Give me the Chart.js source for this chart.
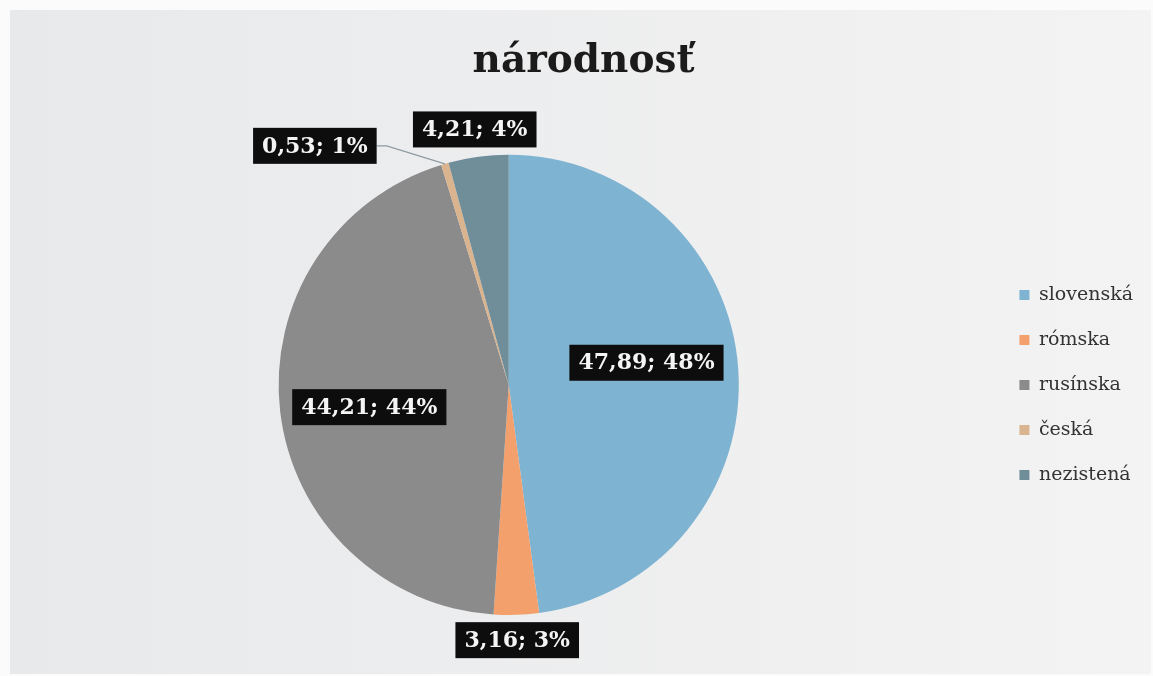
<!doctype html>
<html lang="sk">
    <head>
        <meta charset="UTF-8" />
        <title>národnosť</title>
        <script src="https://cdn.jsdelivr.net/npm/chart.js@4.4.1/dist/chart.umd.min.js"></script>
        <style>
            html,
            body {
                margin: 0;
                padding: 0;
                background: #fbfbfb;
            }
            #wrap {
                width: 1153px;
                height: 676px;
            }
        </style>
    </head>

    <body>
        <div id="wrap"><canvas id="pieChart" width="1153" height="676"></canvas></div>

        <script>
            // data
            const categories = ["slovenská", "rómska", "rusínska", "česká", "nezistená"];
            const values = [47.89, 3.16, 44.21, 0.53, 4.21];
            const percentLabels = ["48%", "3%", "44%", "1%", "4%"];
            const colors = ["#7fb3d2", "#f3a06c", "#8b8b8b", "#d9b48e", "#6f8e9a"];

            // where each value label sits: fraction of radius along the slice middle, plus a nudge
            const labelPlacement = [
                { r: 0.6, dx: 0, dy: -13 },
                { r: 1.11, dx: 0, dy: 0 },
                { r: 0.61, dx: 0, dy: 6 },
                { r: 1.0, dx: -130, dy: -18, leader: true },
                { r: 1.12, dx: 0, dy: 0 },
            ];

            const fmt = (v) => v.toFixed(2).replace(".", ",");

            const backgroundPlugin = {
                id: "paper",
                beforeDraw(chart) {
                    const { ctx, width, height } = chart;
                    ctx.save();
                    const g = ctx.createLinearGradient(0, 0, width, 0);
                    g.addColorStop(0, "#e8e9eb");
                    g.addColorStop(1, "#f3f3f3");
                    ctx.fillStyle = g;
                    ctx.fillRect(10, 10, width - 12, height - 12);
                    ctx.restore();
                },
            };

            const valueLabels = {
                id: "valueLabels",
                afterDatasetsDraw(chart) {
                    const ctx = chart.ctx;
                    const arcs = chart.getDatasetMeta(0).data;
                    ctx.save();
                    ctx.font = "bold 22px 'DejaVu Serif'";
                    ctx.textAlign = "center";
                    ctx.textBaseline = "middle";
                    arcs.forEach((arc, i) => {
                        const p = arc.getProps(["x", "y", "startAngle", "endAngle", "outerRadius"], true);
                        const mid = (p.startAngle + p.endAngle) / 2;
                        const pl = labelPlacement[i];
                        const ax = p.x + Math.cos(mid) * p.outerRadius * pl.r;
                        const ay = p.y + Math.sin(mid) * p.outerRadius * pl.r;
                        const cx = ax + pl.dx;
                        const cy = ay + pl.dy;
                        const text = fmt(values[i]) + "; " + percentLabels[i];
                        const w = ctx.measureText(text).width + 18;
                        const h = 36;
                        if (pl.leader) {
                            ctx.strokeStyle = "#8d9ca2";
                            ctx.lineWidth = 1.2;
                            ctx.beginPath();
                            ctx.moveTo(cx + w / 2, cy);
                            ctx.lineTo(cx + w / 2 + 10, cy);
                            ctx.lineTo(ax, ay);
                            ctx.stroke();
                        }
                        ctx.fillStyle = "#0d0d0d";
                        ctx.fillRect(cx - w / 2, cy - h / 2, w, h);
                        ctx.fillStyle = "#f4f4f4";
                        ctx.fillText(text, cx, cy + 1);
                    });
                    ctx.restore();
                },
            };

            const context = document.querySelector("#pieChart").getContext("2d");
            const pieChart = new Chart(context, {
                type: "pie",
                data: {
                    labels: categories,
                    datasets: [
                        {
                            data: values,
                            backgroundColor: colors,
                            borderWidth: 0,
                        },
                    ],
                },
                options: {
                    responsive: false,
                    animation: false,
                    layout: {
                        padding: { left: 24, right: 10, top: 0, bottom: 61 },
                    },
                    plugins: {
                        title: {
                            display: true,
                            text: "národnosť",
                            color: "#1b1b1b",
                            font: { family: "'DejaVu Serif'", size: 39, weight: "bold" },
                            padding: { top: 38, bottom: 70 },
                        },
                        legend: {
                            position: "right",
                            fullSize: false,
                            labels: {
                                boxWidth: 10,
                                boxHeight: 10,
                                padding: 26,
                                color: "#333333",
                                font: { family: "'DejaVu Serif'", size: 19 },
                            },
                        },
                        tooltip: { enabled: false },
                    },
                },
                plugins: [backgroundPlugin, valueLabels],
            });
        </script>
    </body>
</html>
